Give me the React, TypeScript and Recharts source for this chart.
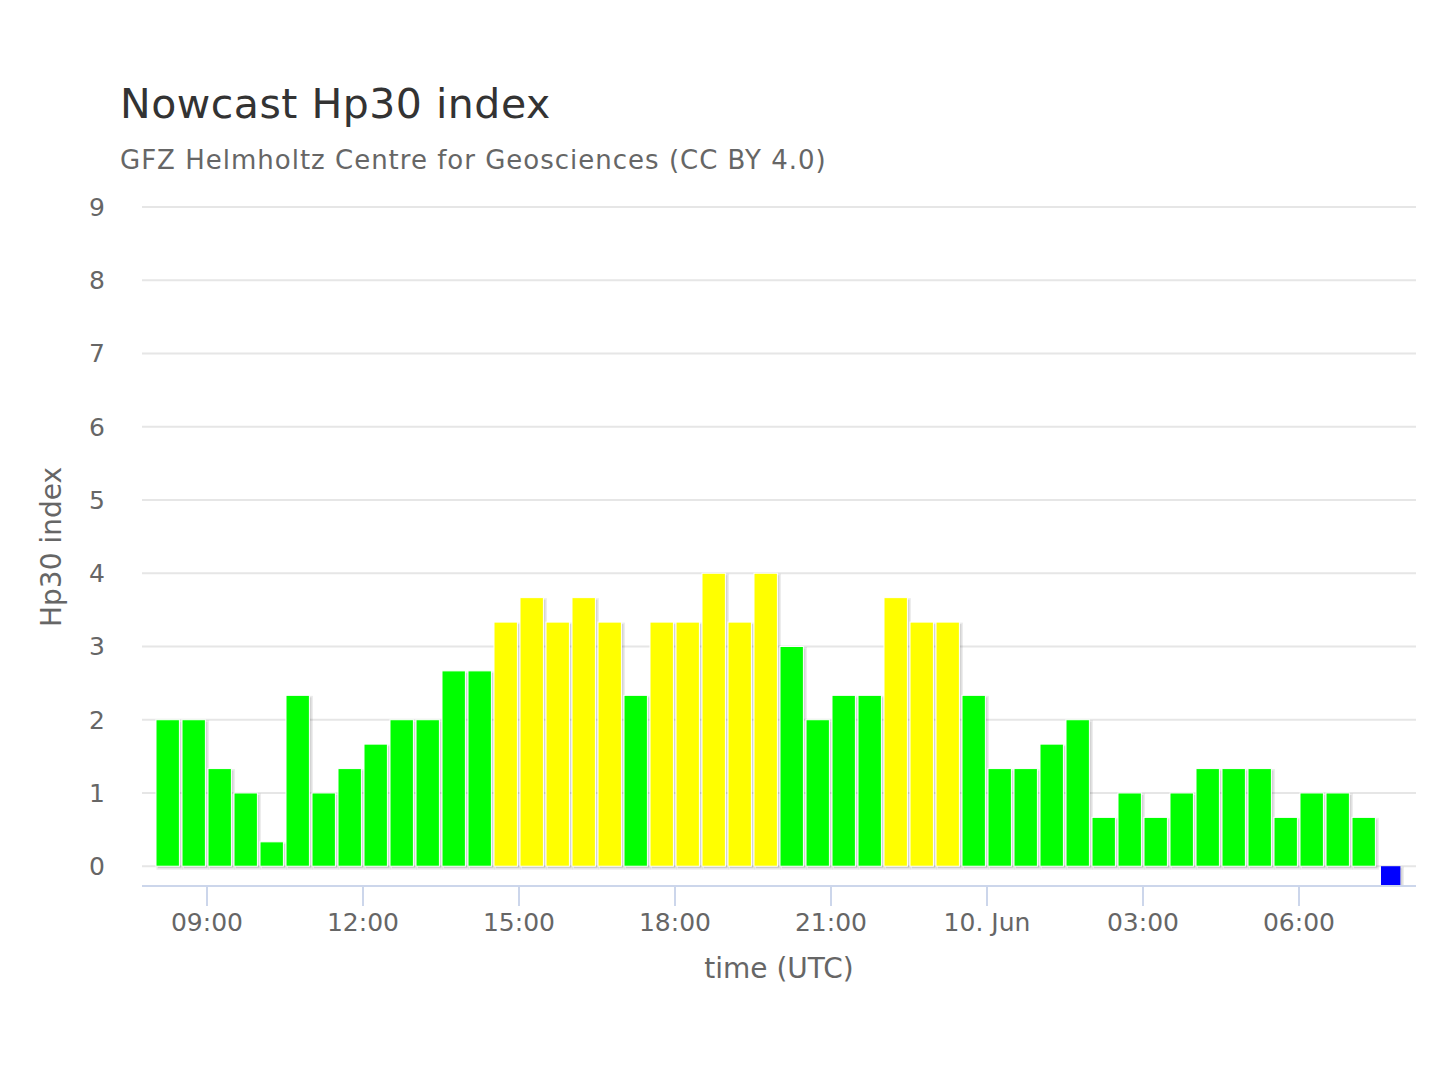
import { Bar, BarChart, CartesianGrid, XAxis, YAxis } from "recharts";

const FONT = '"DejaVu Sans", "Lucida Grande", Verdana, sans-serif';

// half-hour slots (UTC), labelled by their centre time
const SLOTS = [
  "06-09 08:15", "06-09 08:45", "06-09 09:15", "06-09 09:45",
  "06-09 10:15", "06-09 10:45", "06-09 11:15", "06-09 11:45",
  "06-09 12:15", "06-09 12:45", "06-09 13:15", "06-09 13:45",
  "06-09 14:15", "06-09 14:45", "06-09 15:15", "06-09 15:45",
  "06-09 16:15", "06-09 16:45", "06-09 17:15", "06-09 17:45",
  "06-09 18:15", "06-09 18:45", "06-09 19:15", "06-09 19:45",
  "06-09 20:15", "06-09 20:45", "06-09 21:15", "06-09 21:45",
  "06-09 22:15", "06-09 22:45", "06-09 23:15", "06-09 23:45",
  "06-10 00:15", "06-10 00:45", "06-10 01:15", "06-10 01:45",
  "06-10 02:15", "06-10 02:45", "06-10 03:15", "06-10 03:45",
  "06-10 04:15", "06-10 04:45", "06-10 05:15", "06-10 05:45",
  "06-10 06:15", "06-10 06:45", "06-10 07:15",
];

const HP30 = [
  2, 2, 1.333, 1, 0.333, 2.333, 1, 1.333,
  1.667, 2, 2, 2.667, 2.667, 3.333, 3.667, 3.333,
  3.667, 3.333, 2.333, 3.333, 3.333, 4, 3.333, 4,
  3, 2, 2.333, 2.333, 3.667, 3.333, 3.333, 2.333,
  1.333, 1.333, 1.667, 2, 0.667, 1, 0.667, 1,
  1.333, 1.333, 1.333, 0.667, 1, 1, 0.667,
];

// slot not yet computed, drawn as a small blue block under zero
const PENDING_SLOT = "06-10 07:45";
const PENDING_VALUE = -0.26;

const X_TICKS = [9, 12, 15, 18, 21, 24, 27, 30];
const Y_TICKS = [0, 1, 2, 3, 4, 5, 6, 7, 8, 9];

const GREEN = "#00ff00";
const YELLOW = "#ffff00";
const BLUE = "#0000ff";

// hours since 9 June 00:00 UTC
const toHours = (s: string) => {
  const [md, hm] = s.split(" ");
  const day = Number(md.slice(3));
  const [h, m] = hm.split(":").map(Number);
  return (day - 9) * 24 + h + m / 60;
};

const data = [
  ...SLOTS.map((s, i) => ({ t: toHours(s), hp: HP30[i], pending: false })),
  { t: toHours(PENDING_SLOT), hp: PENDING_VALUE, pending: true },
];

const formatTick = (h: number) =>
  h === 24 ? "10. Jun" : `${String(h % 24).padStart(2, "0")}:00`;

function HpBar(props: any) {
  let { x, y, width, height } = props;
  const { payload } = props;
  if (width == null || height == null) return null;
  if (height < 0) {
    y += height;
    height = -height;
  }
  let fill = payload.hp >= 3.3 ? YELLOW : GREEN;
  if (payload.pending) {
    fill = BLUE;
    x += 3;
    width -= 4;
  }
  return (
    <g>
      <rect
        x={x + 2}
        y={y + 2}
        width={width}
        height={height}
        fill="rgba(0,0,0,0.10)"
        stroke="rgba(0,0,0,0.08)"
        strokeWidth={3}
      />
      <rect
        x={x}
        y={y}
        width={width}
        height={height}
        fill={fill}
        stroke={payload.pending ? "none" : "#ffffff"}
        strokeWidth={1}
      />
    </g>
  );
}

export default function App() {
  const tickStyle = { fill: "#666666", fontSize: 25, fontFamily: FONT };
  return (
    <div style={{ position: "absolute", left: 0, top: 0, width: 1440, height: 1080, background: "#fff" }}>
      <BarChart
        width={1440}
        height={1080}
        data={data}
        margin={{ top: 207, right: 24, left: 0, bottom: 134 }}
      >
        <CartesianGrid vertical={false} stroke="#e6e6e6" strokeWidth={2} />
        <XAxis
          dataKey="t"
          type="number"
          domain={[7.75, 32.25]}
          ticks={X_TICKS}
          interval={0}
          allowDataOverflow
          tickFormatter={formatTick}
          axisLine={{ stroke: "#ccd6eb", strokeWidth: 2 }}
          tickLine={{ stroke: "#ccd6eb", strokeWidth: 2 }}
          tickSize={20}
          tickMargin={7}
          height={60}
          tick={tickStyle}
        />
        <YAxis
          type="number"
          domain={[-0.27, 9]}
          ticks={Y_TICKS}
          interval={0}
          allowDataOverflow
          axisLine={false}
          tickLine={false}
          tickSize={0}
          tickMargin={37}
          width={142}
          tick={tickStyle}
        />
        <Bar dataKey="hp" barSize={26} shape={HpBar} isAnimationActive={false} />
      </BarChart>
      <svg
        width={1440}
        height={1080}
        style={{ position: "absolute", left: 0, top: 0, pointerEvents: "none" }}
      >
        <text x={120} y={118} fontSize={41} letterSpacing={0.5} fill="#333333" fontFamily={FONT}>
          Nowcast Hp30 index
        </text>
        <text x={120} y={169} fontSize={26} letterSpacing={1} fill="#666666" fontFamily={FONT}>
          GFZ Helmholtz Centre for Geosciences (CC BY 4.0)
        </text>
        <text
          transform="translate(61,547) rotate(-90)"
          textAnchor="middle"
          fontSize={28}
          fill="#666666"
          fontFamily={FONT}
        >
          Hp30 index
        </text>
        <text x={779} y={978} textAnchor="middle" fontSize={28} fill="#666666" fontFamily={FONT}>
          time (UTC)
        </text>
      </svg>
    </div>
  );
}
